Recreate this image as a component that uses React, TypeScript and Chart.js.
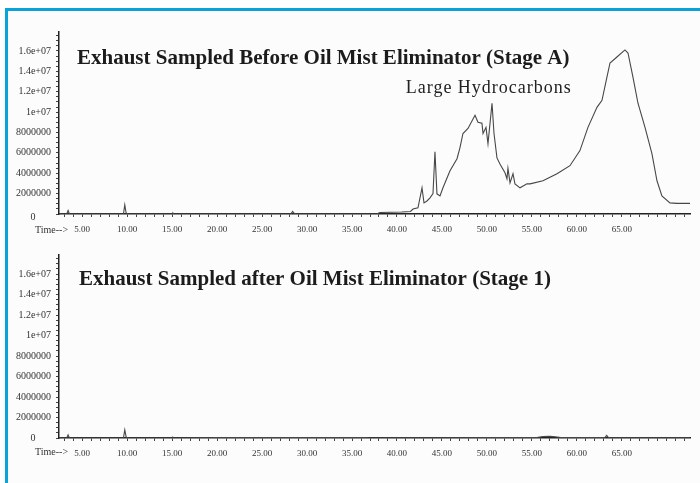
import React, { useEffect, useRef } from "react";
import { Chart, registerables } from "chart.js";

Chart.register(...registerables);

// ---------------- data ----------------
// retention time (min) and abundance (millions of counts), top trace (Stage A)
const topTimes = [
  2.44, 3.3, 3.45, 3.6, 9.6, 9.75, 9.9, 10.1, 15.0, 15.1,
  15.2, 28.2, 28.4, 28.6, 29.0, 37.8, 38.1, 40.5, 41.5, 41.78,
  42.33, 42.78, 43.0, 43.33, 43.67, 44.0, 44.22, 44.44, 44.78, 45.11,
  45.89, 46.67, 47.0, 47.33, 47.89, 48.67, 49.0, 49.44, 49.56, 49.89,
  50.11, 50.56, 50.78, 51.11, 51.44, 52.0, 52.22, 52.33, 52.56, 52.89,
  53.11, 53.67, 54.44, 54.78, 56.22, 57.78, 59.22, 60.33, 61.22, 62.22,
  62.78, 63.33, 63.67, 64.44, 65.33, 65.67, 66.22, 66.78, 67.56, 68.33,
  68.89, 69.44, 70.33, 71.11, 72.56,
];
const topValues = [
  0, 0, 0.35, 0, 0, 0.9, 0.1, 0, 0, 0.1,
  0, 0, 0.25, 0.05, 0, 0.02, 0.15, 0.2, 0.25, 0.49,
  0.6, 2.57, 1.09, 1.28, 1.58, 2.0, 6.1, 1.98, 1.78, 2.57,
  4.25, 5.43, 6.52, 7.9, 8.4, 9.68, 9.0, 8.9, 7.9, 8.5,
  6.9, 10.87, 7.9, 5.5, 4.9, 4.05, 3.46, 4.5, 3.06, 3.95,
  2.96, 2.57, 2.96, 2.96, 3.26, 3.95, 4.74, 6.22, 8.5, 10.47,
  11.16, 13.44, 14.82, 15.41, 16.1, 15.8, 13.44, 10.87, 8.5, 5.93,
  3.26, 1.78, 1.09, 1.04, 1.04,
];

// bottom trace (Stage 1)
const bottomTimes = [
  2.44, 3.3, 3.45, 3.6, 9.6, 9.75, 9.9, 10.1, 15.0, 15.1,
  15.2, 20.0, 25.0, 30.0, 35.0, 36.5, 37.0, 40.0, 45.0, 50.0,
  55.5, 56.2, 57.0, 57.6, 58.2, 63.1, 63.3, 63.5, 72.56,
];
const bottomValues = [
  0, 0, 0.3, 0, 0, 0.8, 0.1, 0, 0, 0.08,
  0, 0.05, 0.05, 0.05, 0.05, 0.05, 0, 0.03, 0.03, 0.04,
  0.04, 0.15, 0.17, 0.12, 0.04, 0.04, 0.25, 0.04, 0.03,
];

const xMajorTicks = [5, 10, 15, 20, 25, 30, 35, 40, 45, 50, 55, 60, 65];
const xTickLabels = ["5.00", "10.00", "15.00", "20.00", "25.00", "30.00", "35.00", "40.00", "45.00", "50.00", "55.00", "60.00", "65.00"];
const yMajorTicks = [2000000, 4000000, 6000000, 8000000, 10000000, 12000000, 14000000, 16000000];
const yTickLabels = ["2000000", "4000000", "6000000", "8000000", "1e+07", "1.2e+07", "1.4e+07", "1.6e+07"];

const topTitle = "Exhaust Sampled Before Oil Mist Eliminator (Stage A)";
const bottomTitle = "Exhaust Sampled after Oil Mist Eliminator (Stage 1)";
const peakNote = "Large Hydrocarbons";
const peakNoteTime = 50.2;
const peakNoteValue = 12.3; // millions
const xAxisLabel = "Time-->";

const X_MIN = 2.44;
const X_MAX = 72.56;
const Y_MAX = 17860000;
const UNIT = 1000000;

const W = 700;
const H = 483;
const SERIF = '"Liberation Serif", "Times New Roman", serif';

const textPlugin = {
  id: "texts",
  afterDraw(chart: any, _args: any, o: any) {
    const { ctx, chartArea } = chart;
    const x = chart.scales.x;
    const y = chart.scales.y;
    ctx.save();
    ctx.fillStyle = "#1c1c1c";
    ctx.textBaseline = "middle";
    ctx.textAlign = "left";
    ctx.font = `bold 21px ${SERIF}`;
    ctx.fillText(o.title, chartArea.left + o.titleDx, chartArea.top + o.titleDy);
    ctx.fillStyle = "#333";
    ctx.font = `10px ${SERIF}`;
    ctx.textAlign = "center";
    ctx.fillText("0", 33, y.getPixelForValue(0) + o.zeroDy);
    ctx.textAlign = "left";
    ctx.fillText(xAxisLabel, 35, x.top + o.timeDy);
    if (o.note) {
      ctx.fillStyle = "#222";
      ctx.font = `18px ${SERIF}`;
      ctx.textAlign = "center";
      try {
        ctx.letterSpacing = "1px";
      } catch (e) {}
      ctx.fillText(o.note, x.getPixelForValue(peakNoteTime), y.getPixelForValue(peakNoteValue * UNIT));
    }
    ctx.restore();
  },
};

function makeConfig(times: number[], values: number[], padTop: number, padBottom: number, textOpts: any) {
  const pts = times.map((t, i) => ({ x: t, y: values[i] * UNIT }));
  return {
    type: "line",
    data: {
      datasets: [
        {
          data: pts,
          borderColor: "#474747",
          borderWidth: 1.1,
          pointRadius: 0,
          tension: 0,
          fill: false,
        },
      ],
    },
    options: {
      animation: false,
      responsive: false,
      maintainAspectRatio: false,
      devicePixelRatio: 1,
      layout: { padding: { left: 0, right: 10, top: padTop, bottom: padBottom } },
      plugins: {
        legend: { display: false },
        tooltip: { enabled: false },
        texts: textOpts,
      },
      scales: {
        x: {
          type: "linear",
          min: X_MIN,
          max: X_MAX,
          afterBuildTicks: (s: any) => {
            const arr: any[] = [];
            for (let v = 3; v <= 72; v++) arr.push({ value: v });
            s.ticks = arr;
          },
          afterFit: (s: any) => {
            s.height = 20;
          },
          grid: { drawOnChartArea: false, drawTicks: true, tickLength: 3, color: "#444", tickColor: "#444" },
          border: { display: true, color: "#222", width: 1.5 },
          ticks: {
            autoSkip: false,
            maxRotation: 0,
            padding: 7,
            color: "#333",
            font: { family: SERIF, size: 9 },
            callback: (v: any) => {
              const i = xMajorTicks.indexOf(Number(v));
              return i >= 0 ? xTickLabels[i] : "";
            },
          },
        },
        y: {
          type: "linear",
          min: 0,
          max: Y_MAX,
          afterBuildTicks: (s: any) => {
            const arr: any[] = [];
            for (let k = 0; k <= 35; k++) arr.push({ value: k * 500000 });
            s.ticks = arr;
          },
          afterFit: (s: any) => {
            s.width = 59;
          },
          grid: { drawOnChartArea: false, drawTicks: true, tickLength: 3, color: "#444", tickColor: "#444" },
          border: { display: true, color: "#222", width: 1.5 },
          ticks: {
            autoSkip: false,
            padding: 5,
            color: "#333",
            font: { family: SERIF, size: 10 },
            callback: (v: any) => {
              const i = yMajorTicks.indexOf(Number(v));
              return i >= 0 ? yTickLabels[i] : "";
            },
          },
        },
      },
    },
    plugins: [textPlugin],
  };
}

function ChartCanvas({ config }: { config: any }) {
  const ref = useRef<HTMLCanvasElement | null>(null);
  useEffect(() => {
    if (!ref.current) return;
    const chart = new Chart(ref.current, config);
    return () => chart.destroy();
  }, [config]);
  return (
    <canvas
      ref={ref}
      width={W}
      height={H}
      style={{ position: "absolute", left: 0, top: 0, width: W, height: H }}
    />
  );
}

const topConfig = makeConfig(topTimes, topValues, 32, H - 214 - 20, {
  title: topTitle,
  titleDx: 18,
  titleDy: 27,
  zeroDy: 3,
  timeDy: 16,
  note: peakNote,
});
const bottomConfig = makeConfig(bottomTimes, bottomValues, 255, H - 438 - 20, {
  title: bottomTitle,
  titleDx: 20,
  titleDy: 25,
  zeroDy: 0,
  timeDy: 14,
});

export default function App() {
  return (
    <div style={{ position: "absolute", left: 0, top: 0, width: W, height: H, background: "#ffffff", overflow: "hidden" }}>
      <div
        style={{
          position: "absolute",
          left: 5,
          top: 8,
          width: W,
          height: H,
          borderTop: "3px solid #0aa3d8",
          borderLeft: "3px solid #0aa3d8",
          background: "#fcfcfc",
        }}
      />
      <ChartCanvas config={topConfig} />
      <ChartCanvas config={bottomConfig} />
    </div>
  );
}
